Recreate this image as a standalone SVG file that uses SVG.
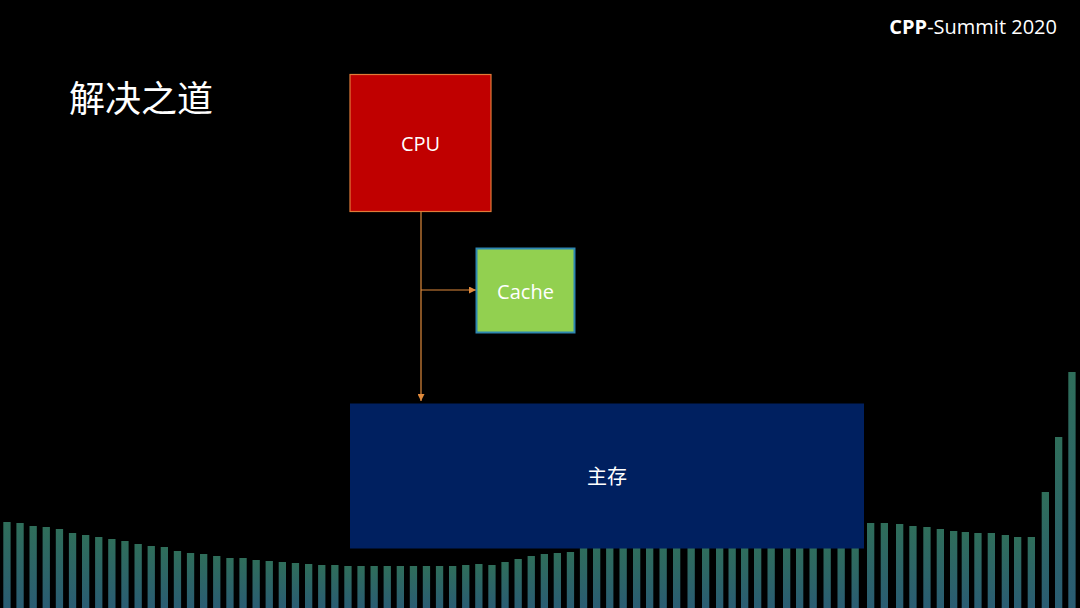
<svg xmlns="http://www.w3.org/2000/svg" width="1080" height="608" viewBox="0 0 1080 608">
<defs>
<linearGradient id="g" x1="0" y1="0" x2="0" y2="1">
<stop offset="0" stop-color="#2F6E5A"/>
<stop offset="1" stop-color="#2A5C73"/>
</linearGradient>
<marker id="ah" viewBox="0 0 10 10" refX="10" refY="5" markerWidth="7" markerHeight="7" markerUnits="userSpaceOnUse" orient="auto">
<path d="M0,0 L10,5 L0,10 z" fill="#E08A3C"/>
</marker>
<style>
.b{fill:url(#g)}
.lbl{font-family:"Open Sans","Noto Sans CJK SC",sans-serif;fill:#FFFFFF;text-anchor:middle}
.cjk{font-family:"Noto Sans CJK SC","Microsoft YaHei",sans-serif;fill:#FFFFFF}
.con{stroke:#E08A3C;stroke-width:1.2;fill:none}
</style>
</defs>
<rect x="0" y="0" width="1080" height="608" fill="#000000"/>
<g id="bars">
<rect class="b" x="3.3" y="522" width="7.3" height="86"/>
<rect class="b" x="16.4" y="523" width="7.3" height="85"/>
<rect class="b" x="29.5" y="526" width="7.3" height="82"/>
<rect class="b" x="42.6" y="527" width="7.3" height="81"/>
<rect class="b" x="55.8" y="529" width="7.3" height="79"/>
<rect class="b" x="68.9" y="533" width="7.3" height="75"/>
<rect class="b" x="82.0" y="535" width="7.3" height="73"/>
<rect class="b" x="95.1" y="537" width="7.3" height="71"/>
<rect class="b" x="108.2" y="539" width="7.3" height="69"/>
<rect class="b" x="121.3" y="541" width="7.3" height="67"/>
<rect class="b" x="134.5" y="544" width="7.3" height="64"/>
<rect class="b" x="147.6" y="546" width="7.3" height="62"/>
<rect class="b" x="160.7" y="547" width="7.3" height="61"/>
<rect class="b" x="173.8" y="551" width="7.3" height="57"/>
<rect class="b" x="186.9" y="553" width="7.3" height="55"/>
<rect class="b" x="200.0" y="554" width="7.3" height="54"/>
<rect class="b" x="213.1" y="556" width="7.3" height="52"/>
<rect class="b" x="226.3" y="558" width="7.3" height="50"/>
<rect class="b" x="239.4" y="558" width="7.3" height="50"/>
<rect class="b" x="252.5" y="560" width="7.3" height="48"/>
<rect class="b" x="265.6" y="561" width="7.3" height="47"/>
<rect class="b" x="278.7" y="562" width="7.3" height="46"/>
<rect class="b" x="291.8" y="563" width="7.3" height="45"/>
<rect class="b" x="305.0" y="564" width="7.3" height="44"/>
<rect class="b" x="318.1" y="565" width="7.3" height="43"/>
<rect class="b" x="331.2" y="565" width="7.3" height="43"/>
<rect class="b" x="344.3" y="566" width="7.3" height="42"/>
<rect class="b" x="357.4" y="566" width="7.3" height="42"/>
<rect class="b" x="370.5" y="566" width="7.3" height="42"/>
<rect class="b" x="383.6" y="566" width="7.3" height="42"/>
<rect class="b" x="396.7" y="566" width="7.3" height="42"/>
<rect class="b" x="409.8" y="566" width="7.3" height="42"/>
<rect class="b" x="422.8" y="566" width="7.3" height="42"/>
<rect class="b" x="435.9" y="566" width="7.3" height="42"/>
<rect class="b" x="449.0" y="566" width="7.3" height="42"/>
<rect class="b" x="462.1" y="565" width="7.3" height="43"/>
<rect class="b" x="475.2" y="564" width="7.3" height="44"/>
<rect class="b" x="488.3" y="565" width="7.3" height="43"/>
<rect class="b" x="501.4" y="562" width="7.3" height="46"/>
<rect class="b" x="514.5" y="559" width="7.3" height="49"/>
<rect class="b" x="527.6" y="556" width="7.3" height="52"/>
<rect class="b" x="540.7" y="554" width="7.3" height="54"/>
<rect class="b" x="553.7" y="553" width="7.3" height="55"/>
<rect class="b" x="566.8" y="552" width="7.3" height="56"/>
<rect class="b" x="579.9" y="545" width="7.3" height="63"/>
<rect class="b" x="593.0" y="545" width="7.3" height="63"/>
<rect class="b" x="606.1" y="545" width="7.3" height="63"/>
<rect class="b" x="619.5" y="545" width="7.3" height="63"/>
<rect class="b" x="633.0" y="545" width="7.3" height="63"/>
<rect class="b" x="646.0" y="545" width="7.3" height="63"/>
<rect class="b" x="659.5" y="545" width="7.3" height="63"/>
<rect class="b" x="673.0" y="545" width="7.3" height="63"/>
<rect class="b" x="687.5" y="545" width="7.3" height="63"/>
<rect class="b" x="702.0" y="545" width="7.3" height="63"/>
<rect class="b" x="716.0" y="545" width="7.3" height="63"/>
<rect class="b" x="728.5" y="545" width="7.3" height="63"/>
<rect class="b" x="741.0" y="545" width="7.3" height="63"/>
<rect class="b" x="754.0" y="545" width="7.3" height="63"/>
<rect class="b" x="767.5" y="545" width="7.3" height="63"/>
<rect class="b" x="783.0" y="545" width="7.3" height="63"/>
<rect class="b" x="796.0" y="545" width="7.3" height="63"/>
<rect class="b" x="809.5" y="545" width="7.3" height="63"/>
<rect class="b" x="823.5" y="545" width="7.3" height="63"/>
<rect class="b" x="837.5" y="545" width="7.3" height="63"/>
<rect class="b" x="851.5" y="545" width="7.3" height="63"/>
<rect class="b" x="867.0" y="523" width="7.3" height="85"/>
<rect class="b" x="880.7" y="523" width="7.3" height="85"/>
<rect class="b" x="896.0" y="524" width="7.3" height="84"/>
<rect class="b" x="909.3" y="526" width="7.3" height="82"/>
<rect class="b" x="923.3" y="527" width="7.3" height="81"/>
<rect class="b" x="936.7" y="529" width="7.3" height="79"/>
<rect class="b" x="950.0" y="531" width="7.3" height="77"/>
<rect class="b" x="961.7" y="532" width="7.3" height="76"/>
<rect class="b" x="974.3" y="533" width="7.3" height="75"/>
<rect class="b" x="987.7" y="533" width="7.3" height="75"/>
<rect class="b" x="1001.7" y="535" width="7.3" height="73"/>
<rect class="b" x="1014.0" y="537" width="7.3" height="71"/>
<rect class="b" x="1027.7" y="537" width="7.3" height="71"/>
<rect class="b" x="1041.7" y="492" width="7.3" height="116"/>
<rect class="b" x="1055.0" y="437" width="7.3" height="171"/>
<rect class="b" x="1068.3" y="372" width="7.3" height="236"/>
</g>
<g id="title">
<text class="cjk" x="69" y="112" font-size="36">解决之道</text>
</g>
<g id="brand">
<text x="1057" y="34" font-family="'Open Sans','Liberation Sans',sans-serif" font-size="20" fill="#FFFFFF" text-anchor="end"><tspan font-weight="bold">CPP</tspan>-Summit 2020</text>
</g>
<g id="connectors">
<line class="con" x1="421" y1="212" x2="421" y2="401" marker-end="url(#ah)"/>
<line class="con" x1="421" y1="290" x2="476" y2="290" marker-end="url(#ah)"/>
</g>
<g id="cpu">
<rect x="350" y="74.5" width="141" height="137" fill="#C00000" stroke="#E07B39" stroke-width="1.2"/>
<text class="lbl" x="420.5" y="151" font-size="20">CPU</text>
</g>
<g id="cache">
<rect x="476.5" y="248.5" width="98" height="84" fill="#92D050" stroke="#2E86B0" stroke-width="2"/>
<text class="lbl" x="525.5" y="298.5" font-size="20" fill="#F4FAEA">Cache</text>
</g>
<g id="memory">
<rect x="350" y="403.5" width="514" height="145" fill="#002060"/>
<text class="cjk" x="607" y="484" font-size="20" text-anchor="middle">主存</text>
</g>
</svg>
